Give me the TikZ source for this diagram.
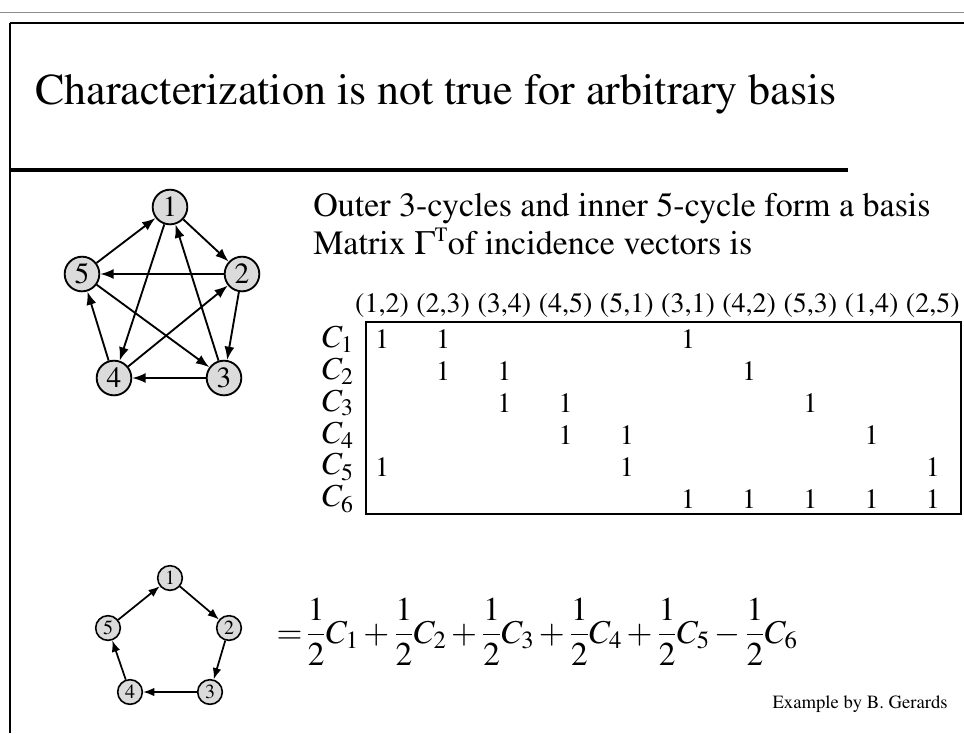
\documentclass[tikz,border=0pt]{standalone}
\usepackage[T1]{fontenc}
\usepackage{mathptmx}
\usetikzlibrary{arrows.meta}

\begin{document}
\begin{tikzpicture}[
  x=0.75pt, y=-0.75pt,
  vtx/.style={
    draw,
    circle,
    line width=1.4pt,
    fill=black!14,
    inner sep=0pt,
    minimum size=26pt,
    font=\fontsize{22}{22}\selectfont
  },
  svtx/.style={vtx, line width=1.2pt, minimum size=18.5pt,
    font=\fontsize{15}{15}\selectfont},   % smaller copy for the 5-cycle
  arc/.style={-{Latex[length=10pt,width=7.5pt]}, line width=1.4pt},
  sarc/.style={-{Latex[length=8.5pt,width=6.5pt]}, line width=1.3pt},
  cell/.style={font=\fontsize{21}{21}\selectfont, inner sep=0pt},
  txt/.style={anchor=base west, inner sep=0pt, font=\fontsize{25.5}{30}\selectfont}
]
\useasboundingbox (0,0) rectangle (964,733);

% --- frame and title ---
\draw[black!45, line width=0.6pt] (0,12) -- (964,12);
\draw[line width=1.2pt] (10,23) -- (964,23);
\draw[line width=1.2pt] (10,23) -- (10,733);
\node[anchor=base west, inner sep=0pt, font=\fontsize{33}{40}\selectfont]
  (title) at (35,104) {Characterization is not true for arbitrary basis};
\draw[line width=3.2pt] (10,170) -- (848,170);

% --- the graph: outer 3-cycles and inner 5-cycle ---
\node[vtx] (a1) at (170,207) {1};
\node[vtx] (a2) at (242,274) {2};
\node[vtx] (a3) at (224,378) {3};
\node[vtx] (a4) at (114,378) {4};
\node[vtx] (a5) at (82,274) {5};

\draw[arc] (a1) -- (a2);
\draw[arc] (a2) -- (a3);
\draw[arc] (a3) -- (a4);
\draw[arc] (a4) -- (a5);
\draw[arc] (a5) -- (a1);
\draw[arc] (a3) -- (a1);
\draw[arc] (a4) -- (a2);
\draw[arc] (a5) -- (a3);
\draw[arc] (a1) -- (a4);
\draw[arc] (a2) -- (a5);

% --- text on the right ---
\node[txt] (l1) at (313,216) {Outer 3-cycles and inner 5-cycle form a basis};
\node[txt] (l2) at (313,254) {Matrix $\Gamma^{\scriptscriptstyle\mathrm{T}}$of incidence vectors is};

% --- incidence matrix ---
\foreach \a/\b [count=\j] in {1/2,2/3,3/4,4/5,5/1,3/1,4/2,5/3,1/4,2/5}
  \node[cell] (h\j) at ({382+61.2*(\j-1)},306) {(\a,\b)};

\foreach \i in {1,...,6}
  \node[cell, anchor=east, font=\fontsize{24}{24}\selectfont] (r\i) at (354,{339+32*(\i-1)}) {$C_{\i}$};

\draw[line width=1.3pt] (366,322) rectangle (961,514);

\foreach \i/\j in {1/1,1/2,1/6, 2/2,2/3,2/7, 3/3,3/4,3/8, 4/4,4/5,4/9,
                   5/1,5/5,5/10, 6/6,6/7,6/8,6/9,6/10}
  \node[cell] (m\i\j) at (h\j |- r\i) {1};

% --- the inner 5-cycle alone ---
\node[svtx] (b1) at (170,578) {1};
\node[svtx] (b2) at (229,628) {2};
\node[svtx] (b3) at (210,692) {3};
\node[svtx] (b4) at (130,692) {4};
\node[svtx] (b5) at (108,628) {5};

\draw[sarc] (b1) -- (b2);
\draw[sarc] (b2) -- (b3);
\draw[sarc] (b3) -- (b4);
\draw[sarc] (b4) -- (b5);
\draw[sarc] (b5) -- (b1);

\node[anchor=west, inner sep=0pt, font=\fontsize{25}{28}\selectfont] (eq) at (280,632)
  {$\displaystyle\!=\!\frac{1}{2}C_1+\frac{1}{2}C_2+\frac{1}{2}C_3+\frac{1}{2}C_4+\frac{1}{2}C_5-\frac{1}{2}C_6$};

\node[anchor=base east, inner sep=0pt, font=\fontsize{14}{16}\selectfont] (ex) at (948,708)
  {Example by B. Gerards};

\end{tikzpicture}
\end{document}
